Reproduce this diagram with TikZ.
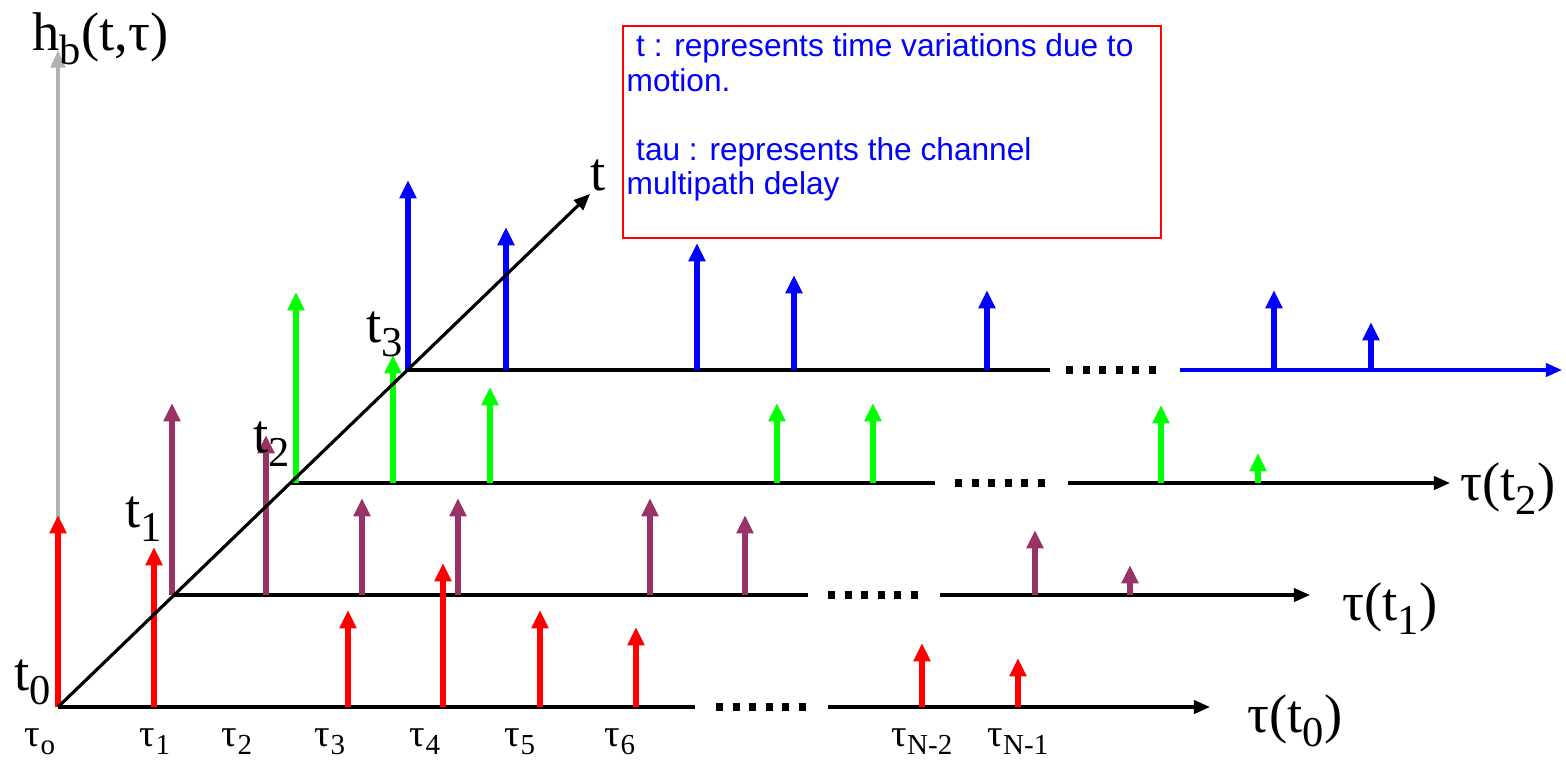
\documentclass[tikz,border=0pt]{standalone}
\usepackage{fontspec}
\setmainfont{Liberation Serif}
\newfontfamily\boxfont{Liberation Sans}
\usetikzlibrary{arrows.meta}
\definecolor{pur}{HTML}{993366}
\definecolor{grn}{HTML}{00FF00}
\definecolor{blu}{HTML}{0000FF}
\definecolor{rd}{HTML}{FF0000}
\definecolor{gry}{HTML}{B2B2B2}
\newcommand{\lo}[1]{\raisebox{-0.27em}{\scalebox{0.78}{#1}}}
\newcommand{\slo}[1]{\raisebox{-0.22em}{\scalebox{0.75}{#1}}}
\begin{document}
\begin{tikzpicture}[x=0.01cm,y=-0.01cm,
  spike/.style={line width=1.7pt,-{Triangle[width=4.6pt,length=5.2pt]}},
  axisline/.style={line width=0.9pt},
  axisarrow/.style={line width=0.9pt,-{Triangle[width=3.8pt,length=4.6pt]}},
  dotseg/.style={line width=2pt,dash pattern=on 2pt off 2.7pt},
  big/.style={font=\fontsize{15.5}{18}\selectfont,inner sep=0pt},
  small/.style={font=\fontsize{11}{13}\selectfont,inner sep=0pt}]
\useasboundingbox (0,0) rectangle (1566,763);

% vertical axis (grey)
\coordinate (o) at (58,707);
\coordinate (vtop) at (58,50);
\draw[gry,line width=1.2pt,-{Triangle[width=4pt,length=5pt]}] (o) -- (vtop);
\node[big,anchor=base west] (hb) at (32,50) {h\lo{b}(t,τ)};

% time-axis coordinates
\coordinate (a0) at (58,707);
\coordinate (a1) at (174,595);
\coordinate (a2) at (291,483);
\coordinate (a3) at (408,370);
\coordinate (ttip) at (590,194);

% tau(t0) axis
\coordinate (e0a) at (695,707); \coordinate (d0a) at (716,707); \coordinate (d0b) at (806,707);
\coordinate (s0) at (828,707); \coordinate (f0) at (1210,707);
\draw[axisline] (a0) -- (e0a);
\draw[dotseg] (d0a) -- (d0b);
\draw[axisarrow] (s0) -- (f0);
% tau(t1) axis
\coordinate (e1a) at (808,595); \coordinate (d1a) at (828,595); \coordinate (d1b) at (918,595);
\coordinate (s1) at (940,595); \coordinate (f1) at (1310,595);
\draw[axisline] (a1) -- (e1a);
\draw[dotseg] (d1a) -- (d1b);
\draw[axisarrow] (s1) -- (f1);
% tau(t2) axis
\coordinate (e2a) at (935,483); \coordinate (d2a) at (955,483); \coordinate (d2b) at (1045,483);
\coordinate (s2) at (1068,483); \coordinate (f2) at (1450,483);
\draw[axisline] (a2) -- (e2a);
\draw[dotseg] (d2a) -- (d2b);
\draw[axisarrow] (s2) -- (f2);
% tau(t3) axis
\coordinate (e3a) at (1050,370); \coordinate (d3a) at (1066,370); \coordinate (d3b) at (1156,370);
\coordinate (s3) at (1180,370); \coordinate (f3) at (1562,370);
\draw[axisline] (a3) -- (e3a);
\draw[dotseg] (d3a) -- (d3b);
\draw[axisarrow,blu] (s3) -- (f3);

% red spikes (t0)
\foreach \x/\y in {58/515,154/547,348/610,443/563,540/610,636/627,922/643,1018/658}
  \draw[spike,rd] (\x,707) -- (\x,\y);
% purple spikes (t1)
\foreach \x/\y in {172/403,266/435,362/498,458/498,650/498,745/515,1035/530,1130/565}
  \draw[spike,pur] (\x,595) -- (\x,\y);
% green spikes (t2)
\foreach \x/\y in {296/292,393/355,490/387,777/403,873/403,1161/405,1258/453}
  \draw[spike,grn] (\x,483) -- (\x,\y);
% blue spikes (t3)
\foreach \x/\y in {408/180,506/227,697/243,794/275,987/290,1274/290,1371/322}
  \draw[spike,blu] (\x,370) -- (\x,\y);

% diagonal t axis
\draw[axisarrow] (a0) -- (ttip);
\node[big,anchor=base west] (tl) at (590,190) {t};

% time labels
\node[big,anchor=base west] (t0) at (14,690) {t\lo{0}};
\node[big,anchor=base west] (t1) at (125,527) {t\lo{1}};
\node[big,anchor=base west] (t2) at (253,452) {t\lo{2}};
\node[big,anchor=base west] (t3) at (366,342) {t\lo{3}};

% axis labels
\node[big,anchor=base west] (lt0) at (1247,732) {τ(t\lo{0})};
\node[big,anchor=base west] (lt1) at (1342,620) {τ(t\lo{1})};
\node[big,anchor=base west] (lt2) at (1460,500) {τ(t\lo{2})};

% tau labels
\foreach \x/\s [count=\i] in {40/o,155/1,237/2,330/3,425/4,520/5,620/6,922/N-2,1018/N-1}
  \node[small,anchor=base] (tau\i) at (\x,746) {τ\slo{\s}};

% note box
\node[draw=rd,line width=0.6pt,minimum width=538*0.01cm,minimum height=212*0.01cm,anchor=north west,inner sep=0pt] (box) at (622,25) {};
\node[anchor=north west,align=left,text=blu,inner sep=0pt,
  font=\boxfont\fontsize{9}{9.8}\selectfont] (note) at (626,33)
  {\hspace{0.3em}t : represents time variations due to\\motion.\\[9.8pt]\hspace{0.3em}tau : represents the channel\\multipath delay};
\end{tikzpicture}
\end{document}
